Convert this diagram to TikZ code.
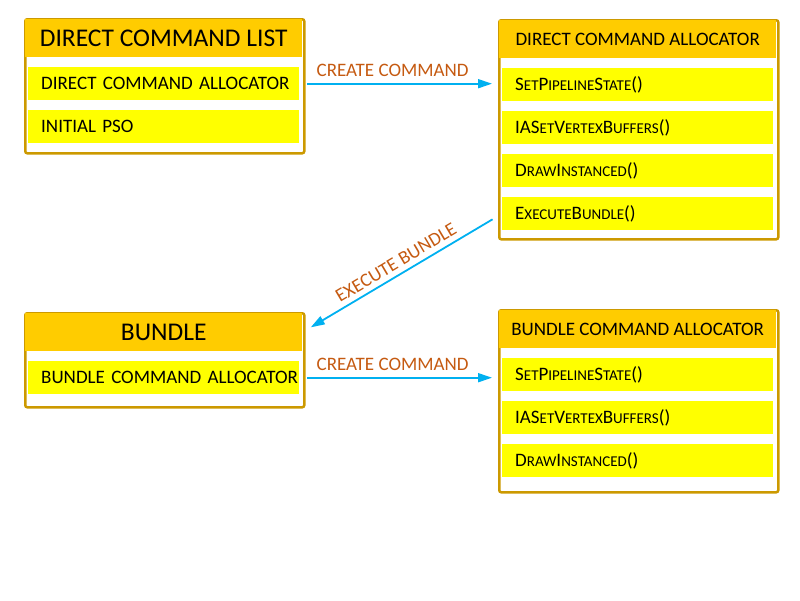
\documentclass[tikz,border=0pt]{standalone}
\usepackage{fontspec}
\setmainfont{Carlito}
\usepackage{tikz}
\usetikzlibrary{calc,arrows.meta}
\definecolor{headgold}{HTML}{FFCC00}
\definecolor{rowyellow}{HTML}{FFFF00}
\definecolor{boxframe}{HTML}{CC9900}
\definecolor{linkblue}{HTML}{00B0F0}
\definecolor{linkorange}{HTML}{C55A11}
\newcommand{\rowfont}{\fontsize{19}{22}\selectfont}
\newcommand{\titlefont}{\fontsize{25.5}{28}\selectfont}
\newcommand{\smc}[1]{{\fontsize{15}{16}\selectfont\uppercase{#1}}}
\tikzset{
    panel/.style={draw=boxframe, line width=2.5pt, rounded corners=2pt, fill=white,
        anchor=north west, minimum width=279pt, inner sep=0pt},
    head/.style={fill=headgold, anchor=north west, minimum width=276.5pt,
        minimum height=38pt, inner sep=0pt},
    item/.style={fill=rowyellow, anchor=north west, text width=271pt, inner sep=0pt,
        minimum height=33pt, align=left, font=\rowfont,
        execute at begin node={\hspace*{13pt}}},
    link/.style={draw=linkblue, line width=1.8pt, -{Triangle[length=14pt,width=9pt]},
        shorten <=8pt, shorten >=10pt},
    linklabel/.style={text=linkorange, font=\rowfont, inner sep=2pt}
}

\begin{document}
\begin{tikzpicture}[x=1pt,y=-1pt]
            % canvas
            \useasboundingbox (0,0) rectangle (800,600);
            % coordinates
            \coordinate (dcl) at (24,18); % direct command list top-left
            \coordinate (dca) at (498,19); % direct command allocator top-left
            \coordinate (bun) at (24,312); % bundle top-left
            \coordinate (bca) at (498,309); % bundle command allocator top-left

            % direct command list
            \node[panel, minimum height=134pt] (dcl-box) at (dcl) {};
            \node[head, font=\titlefont] (dcl-head) at ($(dcl)+(1.25,1.25)$) {DIRECT COMMAND LIST};
            \node[item] (dcl-1) at ($(dcl)+(4,49)$) {DIRECT COMMAND ALLOCATOR};
            \node[item] (dcl-2) at ($(dcl)+(4,92)$) {INITIAL PSO};

            % direct command allocator
            \node[panel, minimum height=219pt] (dca-box) at (dca) {};
            \node[head, font=\rowfont] (dca-head) at ($(dca)+(1.25,1.25)$) {DIRECT COMMAND ALLOCATOR};
            \foreach \txt [count=\i] in {{S\smc{et}P\smc{ipeline}S\smc{tate}()},
                {IAS\smc{et}V\smc{ertex}B\smc{uffers}()},
                {D\smc{raw}I\smc{nstanced}()},
                {E\smc{xecute}B\smc{undle}()}} {
                \node[item] (dca-\i) at ($(dca)+(4,6+43*\i)$) {\txt};
            }

            % bundle
            \node[panel, minimum height=94pt] (bun-box) at (bun) {};
            \node[head, font=\titlefont] (bun-head) at ($(bun)+(1.25,1.25)$) {BUNDLE};
            \node[item] (bun-1) at ($(bun)+(4,49)$) {BUNDLE COMMAND ALLOCATOR};

            % bundle command allocator
            \node[panel, minimum height=182pt] (bca-box) at (bca) {};
            \node[head, font=\rowfont] (bca-head) at ($(bca)+(1.25,1.25)$) {BUNDLE COMMAND ALLOCATOR};
            \foreach \txt [count=\i] in {{S\smc{et}P\smc{ipeline}S\smc{tate}()},
                {IAS\smc{et}V\smc{ertex}B\smc{uffers}()},
                {D\smc{raw}I\smc{nstanced}()}} {
                \node[item] (bca-\i) at ($(bca)+(4,6+43*\i)$) {\txt};
            }

            % create command arrows
            \draw[link] (dcl-1.east) -- (dcl-1.east -| dca-1.west)
                node[linklabel, pos=0.46, above=4pt] (dcl-cmd) {CREATE COMMAND};
            \draw[link] (bun-1.east) -- (bun-1.east -| bca-1.west)
                node[linklabel, pos=0.46, above=4pt] (bun-cmd) {CREATE COMMAND};

            % execute bundle arrow
            \draw[link, shorten <=11pt] (dca-4.west) -- (bun-head.east)
                node[linklabel, midway, sloped, above=3pt] (exe-lbl) {EXECUTE BUNDLE};

        \end{tikzpicture}
\end{document}
